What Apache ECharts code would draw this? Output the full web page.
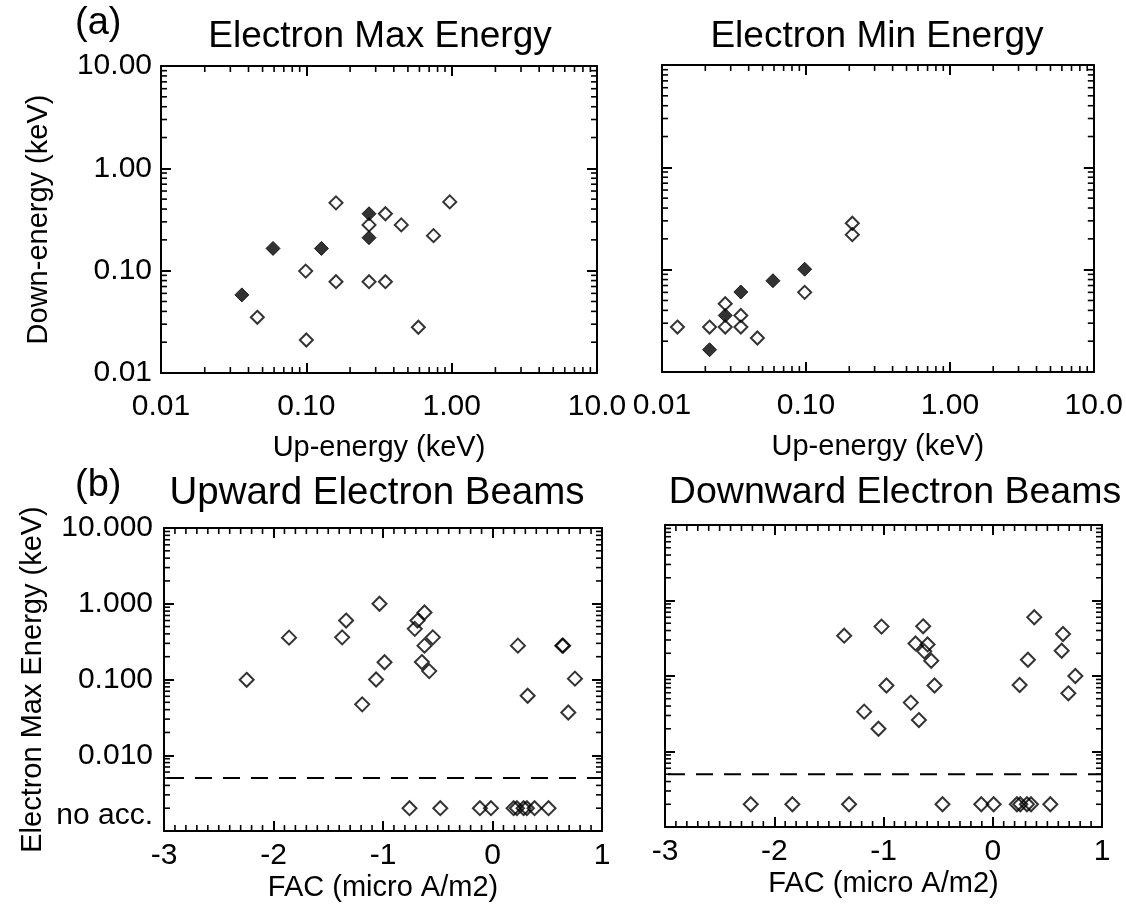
<!DOCTYPE html>
<html>
<head>
<meta charset="utf-8">
<script src="https://cdn.jsdelivr.net/npm/echarts@6/dist/echarts.min.js"></script>
<style>
html,body{margin:0;padding:0;background:#fff;}
#c{width:1126px;height:911px;}
</style>
</head>
<body>
<div id="c"></div>
<script>
// ---------------- data ----------------
// (a) Electron Max Energy: up-energy vs down-energy (keV)
const maxOpenUp    = [0.16, 0.97, 0.35, 0.27, 0.45, 0.75, 0.099, 0.16, 0.27, 0.35, 0.046, 0.10, 0.59];
const maxOpenDown  = [0.46, 0.47, 0.36, 0.28, 0.28, 0.22, 0.099, 0.078, 0.078, 0.078, 0.035, 0.021, 0.028];
const maxFilledUp   = [0.27, 0.27, 0.059, 0.127, 0.036];
const maxFilledDown = [0.36, 0.21, 0.165, 0.165, 0.058];

// (a) Electron Min Energy
const minOpenUp    = [0.0128, 0.0214, 0.0275, 0.0353, 0.0275, 0.0353, 0.046, 0.098, 0.21, 0.21];
const minOpenDown  = [0.0275, 0.0275, 0.0275, 0.0275, 0.0465, 0.0357, 0.0215, 0.060, 0.284, 0.22];
const minFilledUp   = [0.0214, 0.0275, 0.0353, 0.059, 0.098];
const minFilledDown = [0.0165, 0.0357, 0.0605, 0.078, 0.101];

// (b) Upward electron beams: FAC (micro A/m2) vs electron max energy (keV)
const upFac    = [-2.245, -1.858, -1.373, -1.337, -1.032, -1.063, -0.986, -1.19, -0.685, -0.71, -0.621, -0.545, -0.621, -0.645, -0.578, 0.232, 0.321, 0.637, 0.645, 0.753, 0.692];
const upEnergy = [0.099, 0.357, 0.36, 0.6, 1.0, 0.1, 0.169, 0.047, 0.6, 0.466, 0.766, 0.36, 0.28, 0.17, 0.129, 0.28, 0.061, 0.28, 0.28, 0.1026, 0.0367];
const upNoAccFac = [-0.758, -0.477, -0.115, -0.014, 0.193, 0.223, 0.284, 0.314, 0.384, 0.512];

// (b) Downward electron beams
const downFac    = [-1.36, -1.018, -0.637, -0.707, -0.597, -0.627, -0.563, -0.973, -0.533, -0.75, -1.177, -0.676, -1.046, 0.38, 0.643, 0.631, 0.322, 0.756, 0.246, 0.692];
const downEnergy = [0.342, 0.451, 0.455, 0.27, 0.262, 0.212, 0.159, 0.0748, 0.0748, 0.0444, 0.0337, 0.0261, 0.02, 0.6, 0.36, 0.216, 0.164, 0.1, 0.076, 0.059];
const downNoAccFac = [-2.215, -1.834, -1.315, -0.46, -0.105, 0.008, 0.221, 0.252, 0.313, 0.35, 0.527];

const NO_ACC = 0.002;          // plotted level of "no acceleration" events
const ACC_THRESHOLD = 0.005;   // dashed separator
const FAC_RANGE = [-3, 1];
const ENERGY_RANGE = [0.01, 10];
const BEAM_RANGE = [0.001, 10];

// tick labels
const energyTicks   = [0.01, 0.1, 1, 10];
const energyXLabels = ['0.01', '0.10', '1.00', '10.0'];
const energyYLabels = ['0.01', '0.10', '1.00', '10.00'];
const facTicks  = [-3, -2, -1, 0, 1];
const facLabels = ['-3', '-2', '-1', '0', '1'];
const beamTicks       = [0.01, 0.1, 1, 10];
const beamLabelValues = [0.0016, 0.01, 0.1, 1, 10];
const beamLabels      = ['no acc.', '0.010', '0.100', '1.000', '10.000'];

// ---------------- helpers ----------------
const FONT = '"Liberation Sans", Arial, Helvetica, sans-serif';
function logMinors(lo, hi) {
  const out = [];
  for (let e = lo; e < hi; e++) for (let m = 2; m <= 9; m++) out.push(+(m * Math.pow(10, e)).toPrecision(4));
  return out;
}
function linMinors(lo, hi, step) {
  const out = [];
  const n = Math.round((hi - lo) / step);
  for (let i = 0; i <= n; i++) {
    const v = +(lo + i * step).toFixed(4);
    if (Math.abs(v - Math.round(v)) > 1e-6) out.push(v);
  }
  return out;
}
function lookup(values, labels) {
  return function (v) {
    for (let i = 0; i < values.length; i++) {
      const a = values[i];
      if (a > 0 ? Math.abs(Math.log10(a) - Math.log10(v)) < 1e-4 : Math.abs(a - v) < 1e-6) return labels[i];
    }
    return '';
  };
}
function makeAxes(dir, gridIndex, spec) {
  const sides = dir === 'x' ? ['bottom', 'top'] : ['left', 'right'];
  return sides.map(function (pos, si) {
    const ax = {
      gridIndex: gridIndex, type: spec.type, position: pos,
      min: spec.range[0], max: spec.range[1],
      axisLine: { show: true, onZero: false, lineStyle: { color: '#000', width: 2 } },
      axisTick: { show: true, inside: true, length: 10, customValues: spec.majors,
        lineStyle: { color: '#000', width: 2 } },
      axisLabel: { show: false },
      splitLine: { show: false },
      silent: true
    };
    if (spec.type === 'log') ax.logBase = 10;
    if (si === 0) {
      if (spec.labels) {
        ax.axisLabel = {
          show: true, customValues: spec.labelValues,
          formatter: lookup(spec.labelValues, spec.labels),
          margin: spec.margin, color: '#000', fontSize: 30, fontFamily: FONT,
          hideOverlap: false
        };
      }
      if (spec.name) {
        ax.name = spec.name;
        ax.nameLocation = 'middle';
        ax.nameGap = spec.nameGap;
        ax.nameTextStyle = { color: '#000', fontSize: 29, fontFamily: FONT };
      }
    }
    return ax;
  });
}

// ---------------- layout ----------------
const grids = [
  { left: 161, top: 66,  width: 436, height: 307 },
  { left: 662, top: 65,  width: 435, height: 307 },
  { left: 164, top: 528, width: 438, height: 303 },
  { left: 665, top: 525, width: 437, height: 302 }
];

const energyMinors = logMinors(-2, 1);
const beamMinors = logMinors(-3, 1);
const facMinors = linMinors(-3, 1, 0.1);

let xAxes = [], yAxes = [];
// grid 0
xAxes = xAxes.concat(makeAxes('x', 0, { type: 'log', range: ENERGY_RANGE, majors: energyTicks,
  labels: energyXLabels, labelValues: energyTicks, margin: 19, name: 'Up-energy (keV)', nameGap: 60 }));
yAxes = yAxes.concat(makeAxes('y', 0, { type: 'log', range: ENERGY_RANGE, majors: energyTicks,
  labels: energyYLabels, labelValues: energyTicks, margin: 9, name: 'Down-energy (keV)', nameGap: 108 }));
// grid 1
xAxes = xAxes.concat(makeAxes('x', 1, { type: 'log', range: ENERGY_RANGE, majors: energyTicks,
  labels: energyXLabels, labelValues: energyTicks, margin: 19, name: 'Up-energy (keV)', nameGap: 60 }));
yAxes = yAxes.concat(makeAxes('y', 1, { type: 'log', range: ENERGY_RANGE, majors: energyTicks }));
// grid 2
xAxes = xAxes.concat(makeAxes('x', 2, { type: 'value', range: FAC_RANGE, majors: facTicks,
  labels: facLabels, labelValues: facTicks, margin: 10, name: 'FAC (micro A/m2)', nameGap: 42 }));
yAxes = yAxes.concat(makeAxes('y', 2, { type: 'log', range: BEAM_RANGE, majors: beamTicks,
  labels: beamLabels, labelValues: beamLabelValues, margin: 11, name: 'Electron Max Energy (keV)', nameGap: 117 }));
// grid 3
xAxes = xAxes.concat(makeAxes('x', 3, { type: 'value', range: FAC_RANGE, majors: facTicks,
  labels: facLabels, labelValues: facTicks, margin: 10, name: 'FAC (micro A/m2)', nameGap: 42 }));
yAxes = yAxes.concat(makeAxes('y', 3, { type: 'log', range: BEAM_RANGE, majors: beamTicks }));

function pairs(xs, ys) { return xs.map(function (x, i) { return [x, ys[i]]; }); }
function flat(xs, y) { return xs.map(function (x) { return [x, y]; }); }

function openSeries(g, data, size) {
  return { type: 'scatter', xAxisIndex: 2 * g, yAxisIndex: 2 * g, data: data, symbol: 'diamond',
    symbolSize: size, clip: false, silent: true, z: 3,
    itemStyle: { color: 'rgba(255,255,255,0)', borderColor: '#000', borderWidth: 2 } };
}
function filledSeries(g, data, size) {
  return { type: 'scatter', xAxisIndex: 2 * g, yAxisIndex: 2 * g, data: data, symbol: 'diamond',
    symbolSize: size, clip: false, silent: true, z: 3,
    itemStyle: { color: '#000', borderColor: '#000', borderWidth: 1 } };
}
function thresholdSeries(g) {
  return { type: 'line', xAxisIndex: 2 * g, yAxisIndex: 2 * g, silent: true, symbol: 'none', z: 2,
    data: [[FAC_RANGE[0], ACC_THRESHOLD], [FAC_RANGE[1], ACC_THRESHOLD]],
    lineStyle: { color: '#000', width: 2, type: [17, 11], dashOffset: 25 } };
}
// minor ticks on all four sides, placed through the axes' own scales
function minorTickSeries(g, xr, yr, xm, ym) {
  const L = 6;
  const data = []
    .concat(xm.map(function (v) { return [v, yr[0], 0, -L]; }))
    .concat(xm.map(function (v) { return [v, yr[1], 0, L]; }))
    .concat(ym.map(function (v) { return [xr[0], v, L, 0]; }))
    .concat(ym.map(function (v) { return [xr[1], v, -L, 0]; }));
  return { type: 'custom', xAxisIndex: 2 * g, yAxisIndex: 2 * g, silent: true, z: 5, clip: false,
    coordinateSystem: 'cartesian2d',
    encode: { x: 0, y: 1 },
    dimensions: ['x', 'y', 'dx', 'dy'],
    data: data,
    renderItem: function (params, api) {
      const p = api.coord([api.value(0), api.value(1)]);
      return { type: 'line',
        shape: { x1: p[0], y1: p[1], x2: p[0] + api.value(2), y2: p[1] + api.value(3) },
        style: { stroke: '#000', lineWidth: 1.6 } };
    } };
}

const series = [
  filledSeries(0, pairs(maxFilledUp, maxFilledDown), 14),
  openSeries(0, pairs(maxOpenUp, maxOpenDown), 13),
  filledSeries(1, pairs(minFilledUp, minFilledDown), 14),
  openSeries(1, pairs(minOpenUp, minOpenDown), 13),
  thresholdSeries(2),
  openSeries(2, pairs(upFac, upEnergy), 14),
  openSeries(2, flat(upNoAccFac, NO_ACC), 14),
  thresholdSeries(3),
  openSeries(3, pairs(downFac, downEnergy), 14),
  openSeries(3, flat(downNoAccFac, NO_ACC), 14),
  minorTickSeries(0, ENERGY_RANGE, ENERGY_RANGE, energyMinors, energyMinors),
  minorTickSeries(1, ENERGY_RANGE, ENERGY_RANGE, energyMinors, energyMinors),
  minorTickSeries(2, FAC_RANGE, BEAM_RANGE, facMinors, beamMinors),
  minorTickSeries(3, FAC_RANGE, BEAM_RANGE, facMinors, beamMinors)
];

function txt(t, x, y, size, align) {
  return { type: 'text', x: x, y: y, silent: true,
    style: { text: t, fill: '#000', font: size + 'px ' + FONT, align: align || 'center', verticalAlign: 'middle' } };
}

const option = {
  backgroundColor: '#fff',
  animation: false,
  textStyle: { fontFamily: FONT },
  grid: grids,
  xAxis: xAxes,
  yAxis: yAxes,
  series: series,
  graphic: [
    txt('(a)', 75, 24, 38, 'left'),
    txt('Electron Max Energy', 380, 37, 37),
    txt('Electron Min Energy', 877, 37, 37),
    txt('(b)', 75, 486, 38, 'left'),
    txt('Upward Electron Beams', 377, 493, 38.5),
    txt('Downward Electron Beams', 895, 493, 37.5)
  ]
};

const chart = echarts.init(document.getElementById('c'), null, { renderer: 'canvas' });
chart.setOption(option);
</script>
</body>
</html>
